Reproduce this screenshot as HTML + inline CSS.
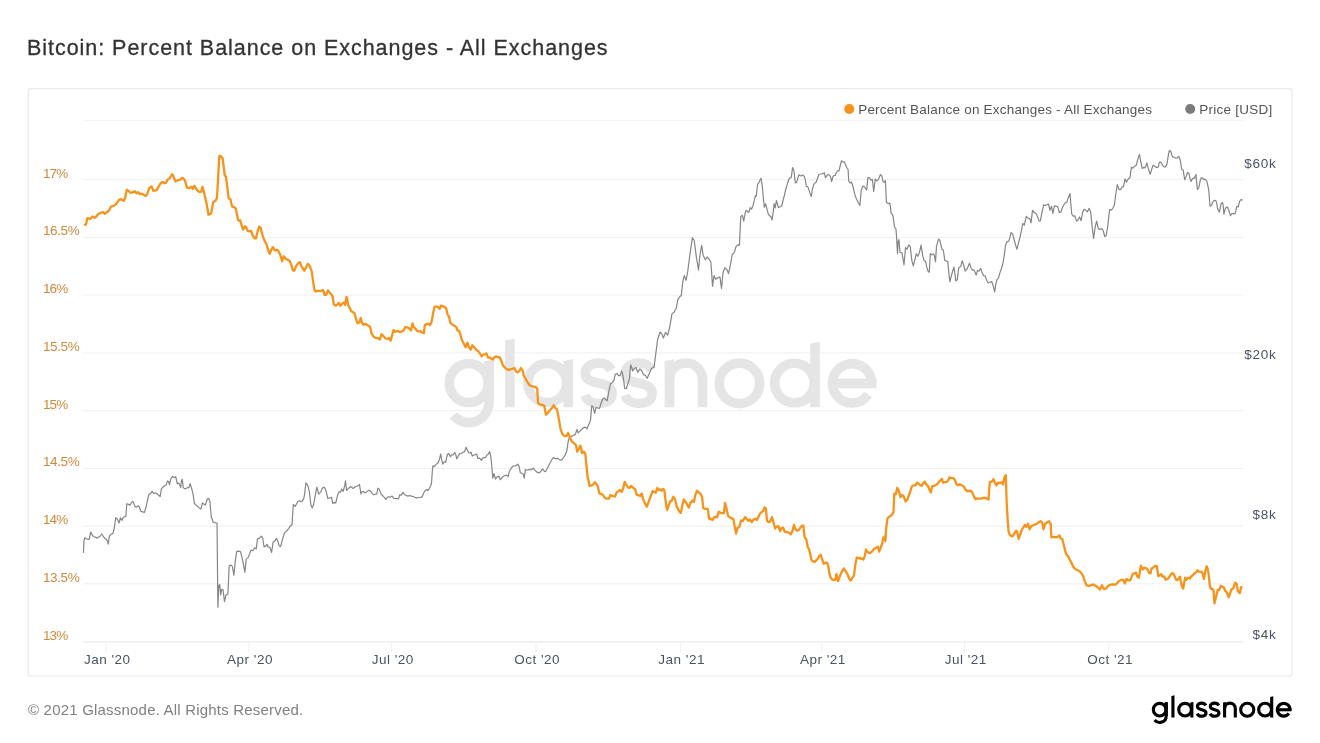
<!DOCTYPE html>
<html><head><meta charset="utf-8">
<style>
html,body{margin:0;padding:0;background:#fff;}
body{width:1320px;height:743px;position:relative;overflow:hidden;font-family:"Liberation Sans",sans-serif;}
svg{position:absolute;left:0;top:0;will-change:transform;}
text{font-family:"Liberation Sans",sans-serif;}
</style></head><body>
<svg width="1320" height="743" viewBox="0 0 1320 743">
<defs><g id="logo" stroke-width="3.1"><circle fill="none" cx="8.05" cy="-7.85" r="6.3"/><path fill="none" d="M14.6,-14.9 L14.6,-1.6 A6.55,6.55 0 0 1 3.03,2.61"/><path stroke="none" d="M13.05,-1.6 L13.05,-14.90 L16.15,-15.50 L16.15,-1.6 Z"/><path stroke="none" d="M19.80,0.0 L19.80,-21.60 L22.90,-22.20 L22.90,0.0 Z"/><circle fill="none" cx="33.45" cy="-7.85" r="6.3"/><path stroke="none" d="M38.70,0.0 L38.70,-15.00 L41.80,-15.60 L41.80,0.0 Z"/><path fill="none" d="M54.20,-12.1 C53.40,-13.6 51.90,-14.35 50.10,-14.35 C47.60,-14.35 45.75,-13.0 45.75,-11.0 C45.75,-8.6 48.20,-8.3 50.20,-7.8 C52.40,-7.3 54.45,-6.7 54.45,-4.5 C54.45,-2.4 52.60,-1.25 50.10,-1.25 C48.00,-1.25 46.30,-2.2 45.60,-3.9"/><path fill="none" d="M67.15,-12.1 C66.35,-13.6 64.85,-14.35 63.05,-14.35 C60.55,-14.35 58.70,-13.0 58.70,-11.0 C58.70,-8.6 61.15,-8.3 63.15,-7.8 C65.35,-7.3 67.40,-6.7 67.40,-4.5 C67.40,-2.4 65.55,-1.25 63.05,-1.25 C60.95,-1.25 59.25,-2.2 58.55,-3.9"/><path stroke="none" d="M71.45,0.0 L71.45,-14.90 L74.55,-15.60 L74.55,0.0 Z"/><path fill="none" d="M73.0,-9.0 A5.35,5.35 0 0 1 83.7,-9.0 L83.7,0"/><circle fill="none" cx="95.65" cy="-7.75" r="6.55"/><circle fill="none" cx="113.45" cy="-7.85" r="6.4"/><path stroke="none" d="M118.55,0.0 L118.55,-20.60 L121.65,-21.20 L121.65,0.0 Z"/><path fill="none" d="M138.45,-7.75 A6.35,6.35 0 1 0 137.30,-4.11"/><path fill="none" stroke-linecap="butt" d="M125.75,-7.75 L140.00,-7.75"/></g></defs>
<rect x="28.2" y="88.6" width="1263.8" height="587.4" rx="2.5" fill="#fff" stroke="#e9e9e9" stroke-width="1.2"/>
<g stroke="#efefef" stroke-width="1">
<line x1="83" y1="120.4" x2="1243" y2="120.4" stroke="#f3f3f3"/>
<line x1="83" y1="583.90" x2="1243" y2="583.90"/>
<line x1="83" y1="526.15" x2="1243" y2="526.15"/>
<line x1="83" y1="468.40" x2="1243" y2="468.40"/>
<line x1="83" y1="410.65" x2="1243" y2="410.65"/>
<line x1="83" y1="352.90" x2="1243" y2="352.90"/>
<line x1="83" y1="295.15" x2="1243" y2="295.15"/>
<line x1="83" y1="237.40" x2="1243" y2="237.40"/>
<line x1="83" y1="179.65" x2="1243" y2="179.65"/>
<line x1="83" y1="641.9" x2="1243" y2="641.9" stroke="#e6e6e6"/>
</g>
<g stroke="#f0f0f0" stroke-width="1">
<line x1="106.0" y1="642.5" x2="106.0" y2="652.5"/>
<line x1="248.8" y1="642.5" x2="248.8" y2="652.5"/>
<line x1="391.6" y1="642.5" x2="391.6" y2="652.5"/>
<line x1="536.0" y1="642.5" x2="536.0" y2="652.5"/>
<line x1="680.4" y1="642.5" x2="680.4" y2="652.5"/>
<line x1="821.7" y1="642.5" x2="821.7" y2="652.5"/>
<line x1="964.5" y1="642.5" x2="964.5" y2="652.5"/>
<line x1="1108.9" y1="642.5" x2="1108.9" y2="652.5"/>
</g>
<use href="#logo" transform="translate(443.9,407.3) scale(3.09)" fill="#e5e5e5" stroke="#e5e5e5"/>
<polyline fill="none" stroke="#858585" stroke-width="1.2" stroke-linejoin="round" points="83.4,552.9 84.0,540.8 84.7,537.8 86.1,538.7 87.4,539.1 89.2,539.4 90.8,532.0 92.4,535.4 94.1,536.7 95.9,537.4 97.2,538.1 98.8,537.0 100.2,536.0 101.8,534.0 103.1,536.0 104.5,538.1 106.2,539.4 107.6,541.4 108.3,544.1 109.3,536.4 111.0,534.3 113.0,533.4 114.3,528.0 115.7,517.9 117.0,518.5 119.0,523.0 120.4,517.9 122.0,520.3 123.3,517.2 125.1,516.5 125.8,516.5 126.8,503.7 128.4,504.4 130.1,505.1 131.8,502.0 133.2,501.7 134.9,506.4 136.5,507.1 138.1,505.8 139.5,507.1 140.8,511.4 142.6,511.8 144.3,512.5 145.9,507.8 147.3,501.0 148.9,494.3 150.6,493.6 152.0,491.2 153.7,493.4 155.4,493.0 157.0,493.6 158.7,495.3 160.1,496.6 161.4,488.9 163.2,486.9 164.8,485.8 166.1,484.9 167.5,480.9 168.5,481.5 169.5,484.5 170.8,478.8 172.6,476.4 174.2,477.5 175.8,476.8 177.2,483.6 178.9,483.1 180.7,487.6 181.6,479.9 182.3,479.5 183.3,487.6 184.7,488.9 186.3,488.3 187.9,487.6 189.0,487.6 190.1,483.6 191.4,487.6 193.0,493.6 194.4,503.3 196.0,505.1 197.7,506.4 199.5,508.2 200.8,509.1 202.5,502.8 203.8,504.1 205.4,505.1 207.2,499.0 208.5,498.4 209.9,501.0 211.2,516.5 213.2,522.2 214.6,522.6 216.6,523.0 217.0,523.0 217.9,607.2 218.8,585.5 219.8,584.6 220.7,594.9 221.7,589.3 223.0,589.7 224.5,601.5 226.0,594.9 227.9,594.0 229.2,565.7 231.1,565.2 232.4,566.7 233.9,575.2 235.4,560.1 236.7,551.6 238.6,551.2 240.5,551.6 242.4,559.1 244.9,572.3 246.2,559.1 248.1,557.6 249.4,554.4 250.9,550.1 252.8,550.7 254.7,547.8 256.2,548.8 257.5,538.8 259.4,538.4 261.2,536.2 262.6,537.5 264.1,546.9 266.0,545.9 266.9,544.4 268.2,546.9 270.1,547.8 271.6,552.5 273.1,542.2 275.0,540.7 276.3,538.4 277.6,540.3 279.2,545.9 280.7,546.3 282.5,539.4 284.4,533.1 286.7,530.9 288.6,528.6 290.1,526.2 292.0,524.8 293.3,504.5 295.2,506.4 297.6,501.7 299.5,500.7 301.8,501.7 303.7,498.8 304.6,494.1 305.9,482.8 307.8,485.7 309.3,491.3 310.8,504.5 312.1,507.9 313.6,504.5 315.3,495.1 316.8,487.2 318.7,494.1 320.6,492.2 322.5,487.9 324.4,487.2 325.9,490.4 327.8,498.5 330.0,497.9 331.5,497.3 332.9,503.6 334.2,502.6 335.7,503.0 337.6,495.1 339.1,491.7 340.4,492.2 341.7,489.0 343.2,491.3 344.7,485.7 345.5,480.9 346.6,490.4 348.9,487.9 350.8,486.6 353.0,488.5 355.5,486.6 358.3,485.7 359.5,484.5 360.9,494.0 362.1,491.6 363.6,491.6 365.2,493.0 367.0,491.6 368.8,490.2 370.6,491.2 372.1,493.3 373.6,494.8 375.5,494.2 376.7,494.2 377.9,488.2 379.3,489.2 380.9,493.6 382.5,495.5 383.9,496.9 385.8,499.3 387.3,497.3 388.8,496.7 390.2,497.3 392.2,496.1 393.6,498.1 395.5,498.7 397.3,498.5 398.5,498.8 399.7,494.8 401.2,495.2 403.1,492.4 404.5,494.8 406.4,495.5 407.9,496.1 409.6,495.5 411.2,496.1 413.0,496.3 414.8,497.3 416.4,497.9 418.5,497.6 420.3,497.3 422.1,496.9 423.7,493.0 425.2,490.6 426.6,489.6 428.2,490.4 429.4,488.2 430.6,485.8 431.5,483.3 432.4,470.0 433.0,465.8 434.2,466.6 435.5,464.9 436.7,463.9 438.2,462.7 439.5,459.1 440.7,454.0 441.9,460.9 442.7,464.2 443.6,462.7 444.5,461.8 445.8,462.1 446.7,457.3 447.6,454.0 448.8,453.6 450.4,456.7 451.6,454.8 453.3,454.8 454.8,452.4 455.7,454.2 456.7,458.8 457.9,456.7 459.7,453.6 461.3,453.3 462.7,452.8 464.5,451.6 466.1,447.2 467.3,450.0 468.8,453.0 470.0,452.8 471.0,452.1 472.2,456.1 473.4,455.2 474.8,454.8 476.7,454.0 477.9,458.5 479.1,458.1 480.3,458.8 481.5,460.3 482.7,458.1 484.3,457.6 485.8,457.3 486.7,455.2 488.2,454.2 489.6,451.6 490.6,455.5 491.6,463.9 492.8,478.2 494.0,473.6 495.5,479.1 497.3,476.7 498.8,476.1 500.3,479.7 502.1,477.5 503.7,476.1 505.2,475.5 506.6,475.1 508.2,476.7 509.4,471.2 510.7,469.0 511.9,467.2 513.3,466.0 515.1,466.0 516.3,465.4 517.9,464.2 519.1,466.4 520.3,472.7 522.0,473.3 523.2,474.1 524.2,478.1 525.4,469.7 526.9,470.3 528.8,469.7 530.3,469.3 531.7,469.7 533.3,468.1 535.1,470.3 536.9,472.1 538.7,472.9 540.6,471.7 542.4,469.0 543.4,469.7 544.6,471.7 545.8,471.2 547.2,468.4 549.4,464.2 551.5,460.3 553.3,457.5 554.7,458.4 556.3,458.7 557.9,458.4 559.3,459.6 560.5,460.3 562.0,459.6 563.6,457.5 565.1,455.1 566.4,452.1 567.2,448.5 568.1,441.8 569.0,438.5 569.5,436.9 571.5,436.2 572.9,435.8 574.2,434.9 575.5,434.2 576.9,429.5 578.2,432.9 580.3,430.8 582.3,428.8 584.3,427.2 585.6,427.5 587.0,428.8 588.3,425.5 589.7,422.8 590.6,419.4 591.7,405.9 593.0,406.6 594.7,413.4 596.0,407.3 597.7,408.0 599.5,408.4 601.1,403.3 602.7,399.2 604.1,397.9 605.8,399.9 607.2,400.6 608.9,391.1 610.5,383.7 612.5,382.4 613.9,380.4 615.2,374.3 617.3,373.6 618.6,375.7 620.2,375.7 621.6,371.0 622.6,373.6 623.7,380.4 624.7,388.5 626.4,388.5 628.0,383.1 629.4,379.0 630.7,364.9 631.8,367.6 632.7,371.0 634.5,368.3 636.1,367.6 637.7,372.3 639.9,368.9 641.8,370.7 643.4,374.6 645.5,375.5 647.2,378.3 649.4,373.3 651.5,368.6 654.1,366.9 655.8,353.5 657.6,339.5 660.1,332.0 661.9,334.1 663.4,338.0 665.5,332.4 667.7,335.2 669.8,326.6 672.0,313.7 674.1,312.2 676.3,307.9 677.8,299.7 680.0,296.4 681.3,295.4 682.8,281.4 684.3,275.6 686.0,280.3 687.7,271.7 689.9,254.5 692.4,237.7 694.2,240.5 696.3,256.6 698.5,270.0 700.0,254.5 701.7,245.4 703.2,255.5 705.4,259.8 707.1,257.0 709.2,259.2 710.8,262.0 711.8,274.9 712.5,286.3 714.0,275.6 715.7,279.2 717.9,277.7 720.0,277.1 721.5,288.5 723.0,272.8 724.8,267.8 726.5,269.1 728.6,273.4 730.1,266.3 732.3,254.5 734.4,252.3 735.9,246.9 737.7,244.8 739.4,245.4 740.1,230.8 740.8,216.6 742.4,215.3 743.7,221.1 745.1,213.3 746.1,210.3 747.8,211.6 748.8,212.6 750.2,207.6 751.5,209.2 752.9,205.9 754.2,200.9 755.3,195.8 756.2,196.4 757.6,184.3 758.9,182.6 759.9,180.3 761.0,178.3 762.3,186.3 763.4,198.5 764.3,207.2 765.7,203.8 767.0,209.2 768.4,214.3 769.7,215.9 771.0,216.6 772.1,220.0 773.3,211.2 774.1,203.6 775.2,207.9 776.4,200.5 777.4,203.8 778.4,207.6 780.1,206.8 781.8,205.9 783.2,199.5 784.5,195.1 785.8,189.0 787.2,184.3 788.5,180.3 789.5,178.0 791.2,177.6 792.6,167.5 793.9,170.9 795.3,183.0 796.6,182.3 798.0,177.6 798.9,174.9 800.0,175.6 801.3,175.8 802.7,174.9 804.0,176.2 805.1,178.9 806.4,186.3 807.8,186.6 809.1,190.4 810.1,193.7 811.4,196.4 812.4,189.0 813.7,184.7 815.0,183.0 816.1,182.3 817.5,178.3 818.8,174.5 820.4,174.0 821.8,174.0 823.1,173.6 824.2,172.6 825.5,177.6 826.9,175.6 828.2,174.5 829.6,175.3 830.7,177.2 831.6,181.6 832.9,176.6 834.3,175.3 835.2,175.6 836.3,172.6 837.7,170.9 839.0,170.9 840.1,166.2 841.4,160.8 842.8,161.8 844.1,161.8 845.5,164.5 846.8,167.5 848.1,169.5 848.7,181.0 850.0,183.0 851.4,182.0 852.7,185.3 854.1,191.7 855.4,196.4 856.8,199.5 858.1,202.2 859.9,205.5 861.2,190.4 862.5,186.6 863.9,186.1 865.2,188.0 866.6,190.1 867.9,177.6 869.3,177.6 871.0,180.3 872.4,179.3 873.7,191.5 875.3,178.9 876.7,181.0 878.0,179.9 879.4,176.9 880.4,174.5 881.8,175.6 883.1,181.6 884.1,182.3 885.4,180.7 886.4,202.5 888.1,203.6 889.9,203.2 891.1,212.9 893.0,215.9 894.5,227.0 896.0,229.2 896.6,237.4 897.5,253.7 898.1,241.8 898.9,239.6 900.0,252.2 901.9,252.9 902.9,258.1 904.0,264.8 905.5,247.7 906.9,249.2 908.9,244.8 910.3,247.0 911.8,260.3 913.3,265.8 914.8,260.3 916.3,253.7 917.7,256.3 918.8,254.4 920.0,250.0 921.1,245.1 922.6,255.1 924.1,260.8 925.6,261.4 927.1,268.5 928.1,271.4 929.3,272.2 930.3,253.7 931.8,254.8 933.3,254.0 934.3,255.1 935.5,261.8 936.5,246.3 938.5,239.2 939.9,240.3 941.0,245.5 941.9,249.2 943.3,250.0 944.8,260.3 946.3,261.1 947.8,261.4 948.8,272.9 949.9,281.8 951.3,275.9 952.8,270.7 954.0,267.0 955.2,275.9 955.8,281.0 957.3,279.6 958.4,269.9 959.2,267.0 960.7,266.7 962.1,260.8 963.6,264.8 965.1,271.1 967.3,268.5 969.5,263.3 971.0,267.7 972.5,270.2 974.0,269.9 975.0,272.2 976.2,275.1 977.4,270.7 978.9,271.1 980.6,268.5 982.1,272.6 983.6,275.6 985.1,275.9 986.6,280.3 988.3,283.0 989.8,282.5 991.7,281.5 993.2,285.9 994.7,291.9 995.7,284.8 996.9,279.6 998.4,278.1 999.9,272.9 1001.4,268.5 1002.8,264.0 1004.3,255.1 1005.5,245.5 1007.0,241.8 1008.8,241.1 1010.0,237.1 1011.0,232.6 1012.5,233.7 1014.0,238.9 1015.4,244.5 1016.9,249.2 1018.4,243.3 1019.9,237.7 1021.4,230.7 1022.8,223.3 1024.3,225.2 1026.2,216.4 1028.0,218.1 1029.8,218.9 1031.0,222.9 1032.5,210.4 1034.2,212.5 1036.2,213.7 1037.6,216.9 1039.1,221.1 1040.4,220.7 1041.8,213.3 1043.6,204.8 1045.5,205.4 1047.0,204.8 1048.5,204.0 1050.0,210.3 1051.5,206.3 1052.9,213.3 1054.4,205.9 1056.3,206.3 1057.8,206.6 1059.3,212.5 1060.8,212.2 1062.3,207.8 1063.7,205.1 1065.5,202.5 1067.0,202.2 1068.2,197.7 1070.0,193.6 1070.7,202.2 1071.7,214.0 1073.2,216.2 1074.7,215.8 1076.6,221.1 1078.1,219.7 1079.6,217.0 1081.1,220.7 1082.5,212.5 1084.0,209.3 1085.9,210.3 1087.4,211.8 1089.2,208.4 1090.7,212.2 1092.2,227.3 1093.6,238.5 1095.1,227.3 1096.6,221.1 1098.4,228.8 1099.9,229.6 1101.8,228.5 1103.3,231.0 1104.7,236.5 1106.2,235.5 1107.7,226.6 1109.6,209.6 1111.4,209.9 1112.9,208.1 1114.4,205.1 1115.8,194.0 1117.3,184.7 1119.1,189.6 1120.6,189.6 1122.1,187.1 1123.5,186.6 1125.0,178.8 1126.5,182.2 1128.0,179.2 1129.9,177.8 1131.4,167.4 1132.9,168.1 1134.3,166.6 1136.3,165.2 1137.8,159.2 1139.5,154.5 1140.7,161.5 1142.2,168.4 1143.7,167.4 1145.2,167.8 1146.9,162.9 1148.4,168.9 1150.2,174.3 1151.7,169.3 1153.1,165.2 1155.1,166.4 1156.5,167.4 1158.0,167.4 1159.5,162.2 1161.0,162.2 1162.5,165.2 1164.0,166.9 1165.4,166.9 1166.9,164.4 1168.4,154.8 1169.4,150.4 1170.9,151.8 1172.4,156.6 1174.3,157.5 1175.8,158.1 1177.3,157.8 1178.8,156.3 1180.2,160.0 1181.7,169.3 1183.2,170.3 1184.7,179.7 1186.2,176.3 1187.6,172.3 1189.1,173.8 1190.2,179.4 1191.2,181.4 1192.2,178.7 1193.4,178.2 1194.4,178.4 1195.2,176.2 1196.0,174.4 1196.6,181.8 1197.4,189.5 1198.7,187.9 1199.5,184.2 1200.5,179.4 1201.6,177.6 1202.5,178.2 1203.5,179.4 1204.7,179.2 1205.9,179.8 1207.0,181.8 1207.9,185.8 1208.6,189.1 1209.2,194.7 1209.6,201.2 1210.0,206.0 1210.8,206.0 1211.6,205.2 1212.4,202.8 1213.6,200.8 1214.8,200.4 1216.0,200.8 1216.8,203.6 1217.6,208.5 1218.4,210.5 1219.4,212.1 1220.1,208.5 1221.0,204.0 1222.5,202.4 1223.1,204.8 1223.9,214.3 1224.7,210.5 1225.7,208.0 1226.5,207.2 1227.5,207.0 1228.3,208.9 1229.1,211.3 1229.9,213.9 1230.5,215.7 1231.4,214.1 1232.6,213.3 1233.8,213.9 1235.0,213.9 1236.0,210.1 1236.8,206.4 1238.2,207.0 1239.4,202.0 1240.4,200.0 1241.8,199.6 1242.7,200.4"/>
<polyline fill="none" stroke="#f7931a" stroke-width="2.3" stroke-linejoin="round" points="84.0,225.1 86.1,224.1 87.4,218.1 88.7,218.3 90.5,219.1 92.4,216.4 94.5,217.8 96.1,216.7 98.2,214.0 100.2,213.1 102.9,212.0 104.9,213.8 106.9,212.0 108.9,210.7 111.0,206.6 113.6,205.9 116.3,203.9 119.0,199.9 121.0,199.2 123.7,200.8 125.1,197.9 126.8,189.8 128.2,190.5 130.5,192.8 133.2,192.2 134.9,191.1 136.5,193.2 138.1,192.2 139.9,194.1 141.9,193.6 143.9,195.2 145.9,195.9 147.3,193.8 149.3,187.8 151.6,186.4 153.3,190.9 156.7,190.1 158.7,186.4 160.7,183.1 162.8,182.0 164.8,183.3 166.1,182.8 167.5,179.7 169.5,178.4 172.2,174.3 173.1,175.3 175.5,181.5 178.2,180.1 180.3,179.7 182.0,177.7 183.6,178.8 185.0,180.4 187.0,187.8 189.0,188.2 191.4,186.8 192.8,188.7 194.4,185.8 197.1,190.1 199.1,191.8 201.1,191.8 202.5,186.8 203.8,191.8 206.5,203.3 208.5,214.7 211.2,213.4 213.2,201.9 215.2,201.2 217.0,197.9 219.3,156.2 220.6,155.9 222.6,158.2 224.7,175.0 226.0,177.0 228.7,198.5 230.4,199.2 232.1,206.6 234.5,207.3 235.8,208.6 238.1,220.1 239.5,220.8 240.1,220.2 241.7,225.6 243.1,229.6 245.1,226.2 246.4,227.6 247.8,231.0 249.8,231.2 251.1,231.0 252.5,235.0 254.5,238.4 255.9,238.4 257.9,230.3 259.2,226.6 260.6,227.6 262.6,235.7 264.6,241.0 266.6,244.4 268.0,249.8 269.7,253.8 271.3,249.8 272.9,247.1 274.7,250.5 276.7,249.8 278.1,250.5 280.1,254.5 282.1,261.2 283.7,256.3 285.5,258.5 287.5,259.9 289.5,260.6 291.2,264.6 292.9,270.3 294.2,270.7 296.2,265.9 298.2,263.3 299.9,262.2 301.6,266.6 304.3,270.7 306.1,267.3 307.7,263.9 309.7,265.9 311.7,271.3 313.0,280.8 314.4,289.5 315.7,291.5 317.8,290.8 321.1,290.8 323.1,290.2 324.5,294.9 326.2,294.9 327.9,290.4 330.5,293.5 332.6,296.2 333.7,304.2 335.5,305.6 337.1,304.9 338.7,302.9 340.5,305.8 342.2,303.6 343.8,302.6 345.2,304.9 346.5,296.8 347.2,298.8 348.1,304.9 349.9,308.3 351.2,311.2 353.3,312.3 354.6,313.4 356.2,319.7 357.6,323.3 359.3,322.4 360.7,318.0 362.0,322.8 363.4,324.7 365.4,323.7 367.4,325.1 370.1,326.8 371.4,333.2 373.4,336.5 375.5,337.9 378.2,338.1 379.9,339.5 381.5,334.1 383.5,336.3 385.6,338.5 387.6,339.0 389.3,337.9 390.7,340.6 392.3,334.5 393.6,329.8 395.2,331.8 397.7,330.9 400.1,332.2 402.4,330.9 403.7,330.5 405.1,327.1 407.1,327.4 409.1,328.2 411.1,330.5 412.5,323.3 413.8,327.1 415.8,329.1 417.6,331.4 419.9,331.1 421.9,332.2 423.9,333.2 424.8,325.1 427.0,324.1 428.6,323.7 430.0,325.1 431.6,321.7 433.3,312.3 434.7,306.6 436.7,306.6 438.0,306.9 439.7,308.9 441.0,305.6 442.7,306.2 444.8,307.2 446.1,308.0 447.5,314.3 448.8,316.1 450.4,322.8 452.2,324.4 454.2,325.8 456.2,326.8 457.5,330.5 459.2,330.9 460.2,333.8 461.6,339.2 463.6,343.3 465.6,347.3 467.4,342.6 469.0,347.3 470.6,349.7 472.4,345.3 474.4,347.6 476.4,350.0 478.4,351.3 479.8,353.4 481.8,356.4 483.1,354.7 484.9,354.3 486.5,353.5 487.8,357.5 489.7,357.5 491.4,358.8 492.8,359.5 494.1,357.5 495.9,356.4 497.8,357.2 499.9,357.5 501.5,361.5 503.1,365.6 505.6,368.3 508.3,369.9 510.3,369.3 512.3,368.9 514.3,368.0 516.1,371.6 517.9,372.3 519.7,370.3 521.0,368.0 522.8,371.0 523.7,375.7 525.8,379.0 527.8,382.8 529.8,385.5 532.5,386.4 535.2,386.8 537.2,388.5 538.1,403.3 539.9,404.3 542.2,404.9 544.3,405.9 545.9,414.7 548.0,412.7 550.0,410.0 552.0,408.0 553.7,405.3 555.1,407.6 557.0,409.3 558.7,418.1 560.5,428.8 562.4,434.2 564.8,436.2 566.8,435.8 568.1,432.9 569.1,434.9 570.1,437.5 571.4,440.9 573.5,442.9 575.9,444.9 577.2,451.6 578.8,448.9 580.2,445.8 581.3,448.3 581.8,453.0 583.5,451.6 585.3,453.6 586.2,463.1 587.6,476.5 589.6,485.9 591.6,485.3 593.0,484.6 594.7,482.2 596.3,483.9 597.9,486.6 599.3,493.4 601.0,493.8 602.8,494.7 604.4,497.4 606.4,498.7 608.7,498.7 610.5,495.1 612.5,496.0 614.9,496.7 616.5,492.7 618.1,491.3 619.9,490.0 621.6,492.0 623.2,488.6 624.6,481.9 626.2,484.6 628.0,487.3 629.3,488.0 631.1,485.9 632.7,487.3 635.1,489.3 636.7,494.7 638.7,495.4 640.3,496.0 641.8,493.4 643.2,499.4 645.0,503.4 646.8,506.8 648.8,501.4 650.8,496.0 652.6,491.1 654.2,492.0 655.8,492.7 657.2,488.0 658.9,490.0 660.3,489.3 661.6,490.7 662.9,489.0 664.3,490.0 665.6,500.8 667.0,510.2 668.7,505.5 670.1,501.4 671.7,500.8 673.3,496.7 675.1,499.4 676.8,506.8 678.7,510.4 680.8,512.9 682.2,506.1 683.8,499.4 685.8,502.1 687.6,505.5 688.9,507.5 690.5,502.8 692.5,500.5 693.9,502.1 695.2,495.4 697.0,490.7 698.6,492.4 700.6,494.0 702.0,496.7 703.3,508.2 705.3,508.8 707.8,508.8 708.7,515.8 709.4,519.1 710.8,518.7 712.4,520.1 714.1,517.4 715.9,516.8 717.2,517.1 718.8,511.7 720.5,512.8 722.2,513.3 724.0,512.8 725.0,503.0 726.2,507.0 728.0,515.8 729.9,517.4 731.6,518.2 733.4,519.1 734.7,526.5 736.1,533.5 737.4,527.9 739.3,527.2 741.0,520.5 742.8,520.9 745.1,517.1 746.8,519.1 748.4,520.9 750.1,519.5 751.8,522.2 753.6,519.5 755.2,518.7 756.8,520.1 758.1,517.8 759.9,513.7 761.6,512.0 763.2,511.0 764.6,507.4 765.9,508.4 767.0,520.9 768.6,522.2 770.2,521.4 772.0,517.1 773.3,521.8 775.1,528.5 776.7,526.8 778.3,525.9 780.1,531.2 781.4,528.1 783.2,527.6 784.8,531.9 786.8,532.2 788.8,532.6 790.8,534.3 792.6,530.6 793.9,524.9 795.5,529.2 797.2,530.8 798.9,529.9 800.7,527.2 802.0,525.9 803.3,525.5 804.7,537.3 806.3,539.3 807.7,546.7 809.3,550.1 810.3,554.1 811.4,559.9 813.0,561.3 814.7,561.8 816.4,560.2 818.1,558.2 819.5,555.5 820.8,554.8 822.2,559.5 823.8,563.9 825.8,562.6 827.2,562.9 828.1,565.3 829.4,573.4 830.5,577.4 832.1,579.5 834.2,580.1 835.3,579.8 836.5,574.2 838.1,581.1 839.7,576.6 841.8,571.7 843.9,568.5 845.8,571.4 847.8,575.0 849.4,579.0 850.7,580.6 852.3,577.9 853.9,575.8 855.5,563.7 856.8,557.5 858.7,558.0 861.2,558.5 863.3,559.6 864.9,555.6 866.0,549.5 867.6,552.0 869.7,553.2 872.0,551.6 874.1,548.8 876.2,547.8 877.8,546.7 879.1,551.6 880.7,547.5 882.2,543.5 883.3,537.8 884.6,536.5 885.4,541.1 886.2,528.1 887.5,518.5 889.1,516.8 890.7,516.0 892.3,514.4 893.5,512.0 894.3,493.9 895.9,494.2 897.2,487.8 898.8,490.7 900.4,497.1 902.0,495.0 903.6,496.2 905.6,501.5 907.2,499.9 908.8,495.5 910.4,491.0 912.0,486.2 914.0,485.3 915.6,485.3 916.9,482.6 918.8,483.7 920.4,485.3 921.7,485.8 923.3,483.2 924.6,481.6 926.2,484.2 927.9,485.8 929.5,489.7 930.8,492.6 932.2,486.2 934.3,485.8 936.2,484.9 937.9,483.2 939.8,481.0 941.9,478.9 943.0,482.6 944.6,482.1 946.7,482.1 948.4,480.0 949.5,477.3 951.1,477.8 953.2,478.1 954.8,479.7 956.4,484.2 958.0,485.3 959.7,484.2 961.8,485.3 963.4,486.2 965.3,489.4 967.2,491.0 969.3,491.0 971.0,490.7 972.6,493.4 974.2,497.1 975.8,499.4 977.4,498.3 979.8,498.7 981.3,498.6 984.1,497.7 987.0,498.6 988.5,499.6 989.8,482.2 991.7,481.7 993.6,479.2 994.9,483.0 996.4,485.4 997.9,482.6 1000.2,483.0 1001.7,482.2 1003.0,484.5 1004.3,477.9 1005.8,475.1 1006.7,503.3 1007.7,520.3 1008.6,531.6 1010.0,535.4 1012.4,536.3 1014.3,533.5 1016.2,530.7 1017.1,531.6 1018.6,538.8 1019.9,535.4 1021.8,529.7 1023.7,526.9 1025.0,525.0 1026.2,526.9 1028.0,523.7 1029.6,529.3 1031.2,526.3 1033.7,525.0 1036.0,524.1 1038.2,522.6 1040.7,521.2 1042.2,522.6 1043.5,529.3 1045.0,524.1 1047.3,522.2 1049.2,521.2 1050.7,524.1 1051.4,537.3 1053.9,536.9 1056.7,537.3 1058.6,536.3 1059.5,535.4 1060.5,538.2 1062.3,539.1 1064.2,546.7 1066.1,554.2 1068.0,556.1 1069.9,559.9 1071.8,563.6 1073.7,567.4 1075.5,569.3 1077.8,570.2 1079.7,571.2 1081.2,573.1 1083.1,575.9 1084.6,580.6 1086.5,585.3 1088.7,585.9 1090.6,585.3 1093.4,584.4 1095.9,585.9 1098.2,587.8 1100.0,589.6 1101.9,585.3 1103.8,589.1 1106.1,588.5 1108.0,585.9 1110.4,584.7 1112.9,584.4 1115.1,584.7 1117.0,583.4 1118.9,581.0 1120.8,580.2 1123.0,579.7 1124.9,583.4 1126.4,579.1 1128.3,580.2 1130.0,580.6 1131.2,578.2 1132.8,573.9 1134.4,573.4 1136.0,572.7 1137.4,576.6 1138.8,577.7 1139.9,571.8 1140.8,565.7 1141.8,567.8 1142.9,569.5 1143.9,567.8 1145.5,567.8 1147.1,568.9 1148.4,571.3 1149.5,573.1 1150.5,573.4 1151.6,568.6 1153.0,567.8 1154.3,566.5 1155.6,565.7 1156.9,566.3 1158.3,576.1 1159.6,575.0 1161.1,574.2 1162.5,576.6 1164.1,576.3 1165.7,579.8 1167.3,579.0 1168.9,577.7 1170.5,575.0 1172.0,573.1 1173.4,573.7 1174.7,576.1 1176.0,579.5 1177.3,580.1 1178.7,578.4 1180.0,576.6 1180.8,581.4 1181.9,586.5 1183.2,588.6 1184.2,582.4 1185.1,577.7 1186.2,579.8 1187.4,578.4 1189.0,577.7 1189.8,578.7 1191.1,576.6 1192.5,575.5 1193.8,573.9 1195.4,573.1 1196.4,571.8 1197.5,570.2 1198.9,571.6 1200.2,571.8 1201.7,572.0 1202.8,573.9 1203.9,579.0 1204.9,572.9 1206.0,568.4 1206.7,566.3 1207.6,568.6 1208.6,573.9 1209.7,584.6 1210.8,588.8 1212.3,589.0 1213.4,589.9 1214.5,603.4 1215.5,598.9 1216.6,594.6 1217.7,589.9 1219.2,590.1 1220.8,585.8 1222.4,586.7 1224.0,587.7 1225.1,590.9 1226.7,592.0 1227.7,595.2 1228.8,597.3 1229.8,594.1 1231.4,589.3 1233.0,588.8 1234.3,585.1 1235.2,582.6 1236.7,584.0 1237.8,590.9 1238.9,592.5 1239.9,593.0 1241.0,587.7 1241.7,586.1"/>
<text x="27" y="54.7" font-size="21.5" fill="#333" stroke="#333" stroke-width="0.3" letter-spacing="0.96">Bitcoin: Percent Balance on Exchanges - All Exchanges</text>
<circle cx="849.3" cy="109" r="5" fill="#f7931a"/>
<text x="858.2" y="113.8" font-size="13.5" fill="#555" letter-spacing="0.2">Percent Balance on Exchanges - All Exchanges</text>
<circle cx="1190.2" cy="109" r="5" fill="#7b7b7b"/>
<text x="1199.3" y="113.8" font-size="13.5" fill="#555" letter-spacing="0.25">Price [USD]</text>
<g font-size="13.5" fill="#d08a3c">
<text x="43" y="177.6" letter-spacing="-0.9">17%</text>
<text x="43" y="235.4" letter-spacing="-0.4">16.5%</text>
<text x="43" y="293.1" letter-spacing="-0.9">16%</text>
<text x="43" y="350.9" letter-spacing="-0.4">15.5%</text>
<text x="43" y="408.6" letter-spacing="-0.9">15%</text>
<text x="43" y="466.4" letter-spacing="-0.4">14.5%</text>
<text x="43" y="524.1" letter-spacing="-0.9">14%</text>
<text x="43" y="581.9" letter-spacing="-0.4">13.5%</text>
<text x="43" y="639.6" letter-spacing="-0.9">13%</text>
</g>
<g font-size="13.5" fill="#4b5262" letter-spacing="0.75" text-anchor="end">
<text x="1276.6" y="168.3">$60k</text>
<text x="1276.6" y="359.4">$20k</text>
<text x="1276.6" y="518.5">$8k</text>
<text x="1276.6" y="639.3">$4k</text>
</g>
<g font-size="13.5" fill="#4b5262" letter-spacing="0.5" text-anchor="middle">
<text x="107.2" y="663.8">Jan '20</text>
<text x="250.0" y="663.8">Apr '20</text>
<text x="392.8" y="663.8">Jul '20</text>
<text x="537.2" y="663.8">Oct '20</text>
<text x="681.6" y="663.8">Jan '21</text>
<text x="822.9" y="663.8">Apr '21</text>
<text x="965.7" y="663.8">Jul '21</text>
<text x="1110.1" y="663.8">Oct '21</text>
</g>
<text x="28" y="715" font-size="15" fill="#808080" letter-spacing="0.2">© 2021 Glassnode. All Rights Reserved.</text>
<use href="#logo" transform="translate(1151.6,717.5)" fill="#000" stroke="#000"/>
</svg>
</body></html>
